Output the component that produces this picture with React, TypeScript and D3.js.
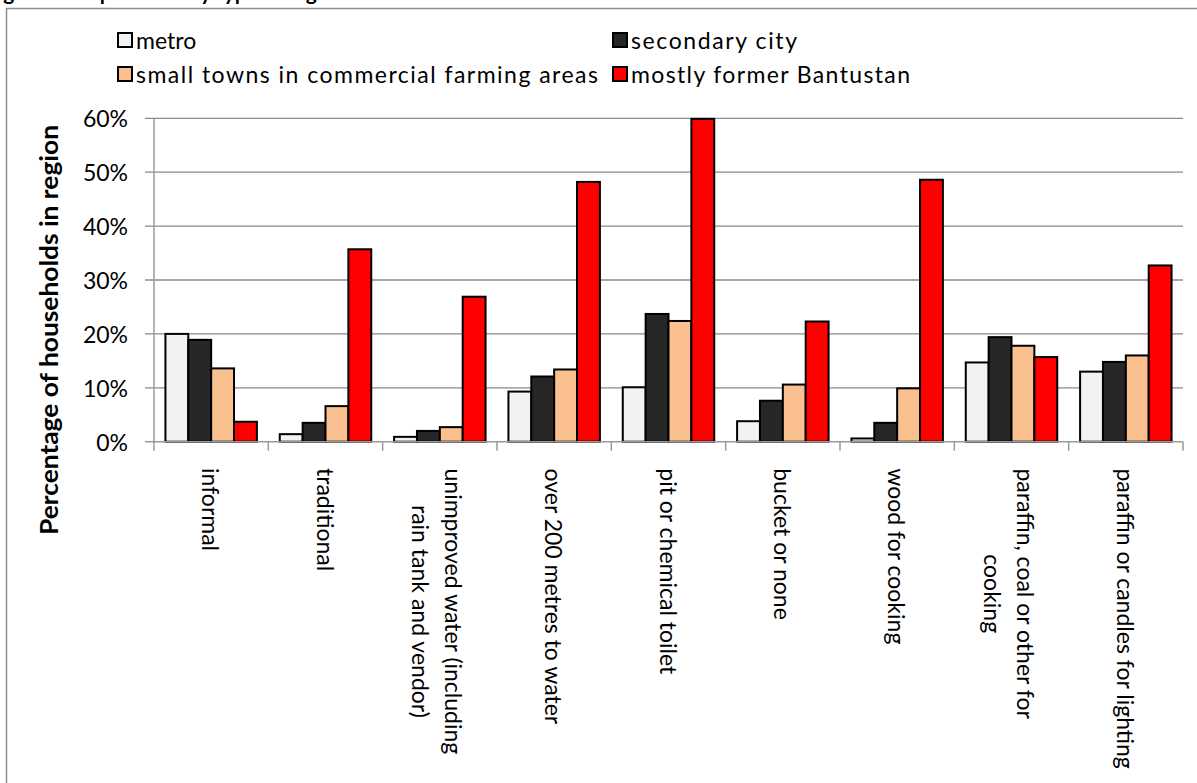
import React from 'react';
import * as d3 from 'd3';

// Category labels (each entry holds the wrapped lines of one label)
const categories: string[][] = [
  ['informal'],
  ['traditional'],
  ['unimproved water (including', 'rain tank and vendor)'],
  ['over 200 metres to water'],
  ['pit or chemical toilet'],
  ['bucket or none'],
  ['wood for cooking'],
  ['paraffin, coal or other for', 'cooking'],
  ['paraffin or candles for lighting'],
];

const seriesNames = [
  'metro',
  'secondary city',
  'small towns in commercial farming areas',
  'mostly former Bantustan',
];
const seriesColors = ['#F2F2F2', '#262626', '#FAC090', '#FF0000'];

// Percentage of households in each region type
const metro = [20.0, 1.4, 0.9, 9.3, 10.1, 3.8, 0.6, 14.7, 13.0];
const secondaryCity = [18.9, 3.5, 2.0, 12.1, 23.7, 7.6, 3.5, 19.4, 14.8];
const smallTowns = [13.6, 6.6, 2.7, 13.4, 22.4, 10.6, 9.9, 17.8, 16.0];
const formerBantustan = [3.7, 35.7, 26.9, 48.2, 59.9, 22.3, 48.6, 15.7, 32.7];

const yTicks = [0, 10, 20, 30, 40, 50, 60];

const seriesValues = [metro, secondaryCity, smallTowns, formerBantustan];

const FONT = 'Lato, "Open Sans", "DejaVu Sans", sans-serif';

function measure(text: string, font: string): number {
  const c = document.createElement('canvas').getContext('2d');
  if (!c) return text.length * 11;
  c.font = font;
  return c.measureText(text).width;
}

// legend layout: column x of the swatch, row centre, and the spread of each entry's text
const legendSlots: { sx: number; cy: number; len?: number }[] = [
  { sx: 118, cy: 40 },
  { sx: 613, cy: 40, len: 166 },
  { sx: 118, cy: 74, len: 462 },
  { sx: 613, cy: 74, len: 279 },
];

export default function App() {
  const W = 1197;
  const H = 783;
  const plot = { left: 154, right: 1183, top: 118.3, bottom: 441.7 };

  const catKeys = categories.map((_, i) => String(i));
  const x0 = d3.scaleBand<string>().domain(catKeys).range([plot.left, plot.right]).padding(0);
  const x1 = d3
    .scaleBand<string>()
    .domain(seriesNames)
    .range([0, x0.bandwidth()])
    .paddingInner(0)
    .paddingOuter(0.5);
  const y = d3.scaleLinear().domain([0, 60]).range([plot.bottom, plot.top]);

  const labelSize = 23;
  const labelFont = `${labelSize}px Lato`;
  const labelTop = 468;
  const lineGap = 33;

  const boundaries = d3.range(categories.length + 1).map((i) => plot.left + i * x0.step());

  return (
    <svg
      width={W}
      height={H}
      viewBox={`0 0 ${W} ${H}`}
      style={{ position: 'absolute', left: 0, top: 0, background: '#fff' }}
      fontFamily={FONT}
    >
      {/* caption above the chart frame */}
      <text x={-14} y={0} fontSize={21} fontWeight="bold" fill="#000">
        Figure 4: Deprivation by type of region
      </text>

      {/* chart frame */}
      <rect x={6.5} y={8.5} width={1230} height={800} fill="#fff" stroke="#8c8c8c" strokeWidth={1.5} />

      {/* legend */}
      {seriesNames.map((name, i) => {
        const { sx, cy, len } = legendSlots[i];
        return (
          <g key={name}>
            <rect x={sx} y={cy - 7} width={14} height={14} fill={seriesColors[i]} stroke="#000" strokeWidth={2} />
            <text
              x={sx + 18}
              y={cy}
              dominantBaseline="central"
              fontSize={23}
              textLength={len}
              lengthAdjust={len ? 'spacing' : undefined}
              fill="#000"
            >
              {name}
            </text>
          </g>
        );
      })}

      {/* horizontal gridlines and y tick labels */}
      {yTicks.map((t) => (
        <g key={t}>
          {t > 0 && (
            <line x1={145} x2={plot.right} y1={y(t)} y2={y(t)} stroke="#8a8a8a" strokeWidth={1.3} />
          )}
          <text x={128} y={y(t)} textAnchor="end" dominantBaseline="central" fontSize={23} fill="#000">
            {`${t}%`}
          </text>
        </g>
      ))}

      {/* bars */}
      {categories.map((_, ci) => (
        <g key={ci} transform={`translate(${x0(String(ci))},0)`}>
          {seriesNames.map((s, si) => {
            const v = seriesValues[si][ci];
            return (
              <rect
                key={s}
                x={x1(s)}
                y={y(v)}
                width={x1.bandwidth()}
                height={y(0) - y(v)}
                fill={seriesColors[si]}
                stroke="#000"
                strokeWidth={2}
              />
            );
          })}
        </g>
      ))}

      {/* axes */}
      <line x1={plot.left} x2={plot.left} y1={plot.top} y2={plot.bottom} stroke="#9a9a9a" strokeWidth={1.5} />
      <line x1={145} x2={plot.left} y1={plot.bottom} y2={plot.bottom} stroke="#9a9a9a" strokeWidth={1.5} />
      <line x1={plot.left} x2={plot.right} y1={plot.bottom} y2={plot.bottom} stroke="#9a9a9a" strokeWidth={1.5} />
      {boundaries.map((bx, i) => (
        <line key={i} x1={bx} x2={bx} y1={plot.bottom} y2={plot.bottom + 9} stroke="#9a9a9a" strokeWidth={1.5} />
      ))}

      {/* rotated category labels */}
      {categories.map((lines, ci) => {
        const cx = (x0(String(ci)) as number) + x0.bandwidth() / 2;
        const widths = lines.map((l) => measure(l, labelFont));
        const maxW = Math.max(...widths);
        const mid = labelTop + maxW / 2;
        const n = lines.length;
        const shift = n > 1 ? -2 : 0;
        return (
          <g key={ci}>
            {lines.map((l, li) => {
              const lx = cx + shift + ((n - 1) / 2 - li) * lineGap;
              return (
                <text
                  key={li}
                  transform={`translate(${lx},${mid}) rotate(90)`}
                  textAnchor="middle"
                  dominantBaseline="central"
                  fontSize={labelSize}
                  fontFamily="Lato"
                  fill="#000"
                >
                  {l}
                </text>
              );
            })}
          </g>
        );
      })}

      {/* y axis title */}
      <text
        transform={`translate(48,330) rotate(-90)`}
        textAnchor="middle"
        dominantBaseline="central"
        fontSize={24}
        fontWeight="bold"
        textLength={410}
        lengthAdjust="spacingAndGlyphs"
        fill="#000"
      >
        Percentage of households in region
      </text>
    </svg>
  );
}
